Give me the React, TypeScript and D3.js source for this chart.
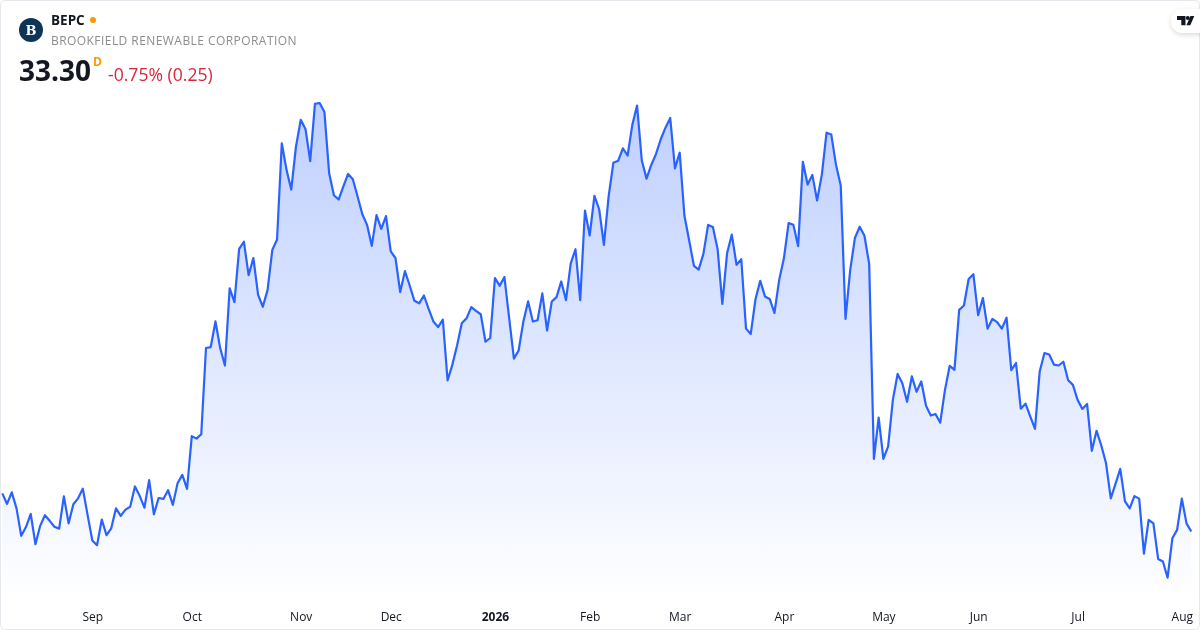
import * as d3 from "d3";
import { useEffect, useRef } from "react";

const symbol = "BEPC";
const companyName = "BROOKFIELD RENEWABLE CORPORATION";
const lastPrice = "33.30";
const intervalLabel = "D";
const changeLabel = "-0.75% (0.25)";

const tickLabels = ["Sep", "Oct", "Nov", "Dec", "2026", "Feb", "Mar", "Apr", "May", "Jun", "Jul", "Aug"];
const tickSessions = [19, 40, 63, 82, 104, 124, 143, 165, 186, 206, 227, 249];

// daily closes
const closes = [
  34.52, 34.18, 34.55, 34.04, 33.16, 33.44, 33.86, 32.89, 33.48, 33.82, 33.64, 33.45,
  33.39, 34.42, 33.56, 34.17, 34.36, 34.67, 33.83, 33.01, 32.86, 33.68, 33.18, 33.40,
  34.04, 33.80, 34.00, 34.09, 34.74, 34.44, 34.06, 34.94, 33.85, 34.37, 34.34, 34.62,
  34.15, 34.84, 35.11, 34.66, 36.35, 36.27, 36.41, 39.17, 39.20, 40.02, 39.16, 38.61,
  41.08, 40.64, 42.34, 42.57, 41.50, 42.05, 40.87, 40.49, 41.03, 42.31, 42.64, 45.72,
  44.87, 44.24, 45.62, 46.47, 46.18, 45.15, 46.98, 47.01, 46.72, 44.76, 44.06, 43.92,
  44.34, 44.74, 44.57, 44.02, 43.45, 43.11, 42.44, 43.42, 42.98, 43.39, 42.26, 42.05,
  40.96, 41.63, 41.17, 40.68, 40.60, 40.85, 40.42, 40.02, 39.84, 40.08, 38.13, 38.63,
  39.25, 39.96, 40.12, 40.48, 40.36, 40.25, 39.37, 39.49, 41.41, 41.16, 41.44, 40.13,
  38.83, 39.09, 40.02, 40.66, 40.02, 40.06, 40.92, 39.73, 40.66, 40.80, 41.30, 40.70,
  41.88, 42.33, 40.70, 43.57, 42.77, 44.04, 43.61, 42.47, 44.02, 45.10, 45.16, 45.56,
  45.33, 46.31, 46.93, 45.17, 44.59, 45.03, 45.38, 45.85, 46.22, 46.53, 44.92, 45.42,
  43.40, 42.61, 41.80, 41.68, 42.18, 43.11, 43.04, 42.34, 40.58, 42.20, 42.80, 41.83,
  42.01, 39.79, 39.62, 40.73, 41.32, 40.82, 40.74, 40.29, 41.35, 42.04, 43.17, 43.11,
  42.43, 45.13, 44.40, 44.71, 43.89, 44.71, 46.06, 46.00, 45.03, 44.36, 40.10, 41.67,
  42.70, 43.05, 42.76, 41.86, 35.62, 36.94, 35.62, 36.02, 37.51, 38.34, 38.04, 37.45,
  38.26, 37.77, 38.10, 37.32, 37.01, 37.06, 36.78, 37.83, 38.60, 38.47, 40.39, 40.53,
  41.38, 41.53, 40.22, 40.77, 39.79, 40.10, 40.00, 39.79, 40.14, 38.46, 38.69, 37.23,
  37.39, 36.98, 36.58, 38.42, 39.01, 38.96, 38.64, 38.61, 38.73, 38.14, 37.99, 37.51,
  37.22, 37.38, 35.88, 36.52, 36.05, 35.48, 34.36, 34.82, 35.30, 34.26, 34.04, 34.43,
  34.35, 32.59, 33.67, 33.56, 32.42, 32.34, 31.82, 33.08, 33.35, 34.35, 33.55, 33.30,
];

const width = 1200;
const height = 630;
const font = "'Open Sans', 'Noto Sans', sans-serif";

export default function App() {
  const svgRef = useRef<SVGSVGElement>(null);

  useEffect(() => {
    const svg = d3.select(svgRef.current);
    svg.selectAll("*").remove();

    const x = d3.scaleLinear([0, closes.length - 1], [2.3, 1191.3]);
    const y = d3.scaleLinear([31.82, 47.01], [577.7, 103]);
    const areaBottom = 600;

    // card
    svg.append("rect")
      .attr("x", 0.5)
      .attr("y", 0.5)
      .attr("width", width - 1)
      .attr("height", height - 1)
      .attr("rx", 4)
      .attr("fill", "#fff")
      .attr("stroke", "#e6e8ee");

    const defs = svg.append("defs");
    const grad = defs.append("linearGradient")
      .attr("id", "areaFill")
      .attr("gradientUnits", "userSpaceOnUse")
      .attr("x1", 0).attr("x2", 0)
      .attr("y1", 103).attr("y2", areaBottom);
    grad.append("stop").attr("offset", 0).attr("stop-color", "#2962ff").attr("stop-opacity", 0.3);
    grad.append("stop").attr("offset", 1).attr("stop-color", "#2962ff").attr("stop-opacity", 0);

    const shadow = defs.append("filter")
      .attr("id", "pillShadow")
      .attr("x", "-30%").attr("y", "-30%")
      .attr("width", "160%").attr("height", "180%");
    shadow.append("feDropShadow")
      .attr("dx", 0).attr("dy", 2)
      .attr("stdDeviation", 2.5)
      .attr("flood-color", "#000")
      .attr("flood-opacity", 0.14);

    const area = d3.area<number>((_, i) => x(i), areaBottom, d => y(d));
    const line = d3.line<number>((_, i) => x(i), d => y(d));

    svg.append("path")
      .attr("d", area(closes))
      .attr("fill", "url(#areaFill)");

    svg.append("path")
      .attr("d", line(closes))
      .attr("fill", "none")
      .attr("stroke", "#2962ff")
      .attr("stroke-width", 2.2)
      .attr("stroke-linejoin", "round");

    // x axis, labels only
    const xAxis = d3.axisBottom(x)
      .tickValues(tickSessions)
      .tickSize(0)
      .tickPadding(0)
      .tickFormat((_, i) => tickLabels[i]);

    const axisG = svg.append("g")
      .attr("transform", "translate(0, 612.5)")
      .call(xAxis);
    axisG.select(".domain").remove();
    axisG.selectAll("text")
      .attr("font-family", font)
      .attr("font-size", 12)
      .attr("fill", "#131722")
      .attr("font-weight", (_, i) => (tickLabels[i] === "2026" ? 700 : 400));

    // header
    svg.append("circle").attr("cx", 31).attr("cy", 30).attr("r", 12).attr("fill", "#0e3558");
    svg.append("text")
      .attr("x", 31).attr("y", 35)
      .attr("text-anchor", "middle")
      .attr("font-family", "'DejaVu Serif', serif")
      .attr("font-size", 13)
      .attr("font-weight", 700)
      .attr("fill", "#fff")
      .text("B");

    const header = [
      { text: symbol, x: 51, y: 25, size: 13.5, weight: 700, color: "#131722", spacing: 0 },
      { text: companyName, x: 51, y: 45, size: 12, weight: 400, color: "#8c8c8c", spacing: 0.44 },
      { text: lastPrice, x: 19, y: 81, size: 28, weight: 700, color: "#131722", spacing: 0 },
      { text: intervalLabel, x: 93, y: 66, size: 12, weight: 700, color: "#ff9800", spacing: 0 },
      { text: changeLabel, x: 108, y: 81, size: 17.6, weight: 400, color: "#d9263f", spacing: 0 },
    ];
    svg.append("g")
      .selectAll("text")
      .data(header)
      .join("text")
      .attr("x", d => d.x)
      .attr("y", d => d.y)
      .attr("font-family", font)
      .attr("font-size", d => d.size)
      .attr("font-weight", d => d.weight)
      .attr("letter-spacing", d => d.spacing)
      .attr("fill", d => d.color)
      .text(d => d.text);

    svg.append("circle").attr("cx", 93).attr("cy", 20).attr("r", 3).attr("fill", "#ff9800");

    // logo pill
    svg.append("rect")
      .attr("x", 1171).attr("y", 9)
      .attr("width", 50).attr("height", 24)
      .attr("rx", 12)
      .attr("fill", "#fff")
      .attr("filter", "url(#pillShadow)");
    svg.append("path")
      .attr("d", "M1177 16h8.5v9.2h-4.2v-5.2h-4.3z M1190.5 16h3.8l-4 9.2h-3.9z")
      .attr("fill", "#131722");
    svg.append("circle").attr("cx", 1187.8).attr("cy", 18).attr("r", 2).attr("fill", "#131722");
  }, []);

  return (
    <svg
      ref={svgRef}
      width={width}
      height={height}
      style={{ position: "fixed", left: 0, top: 0, display: "block" }}
      xmlns="http://www.w3.org/2000/svg"
    />
  );
}
